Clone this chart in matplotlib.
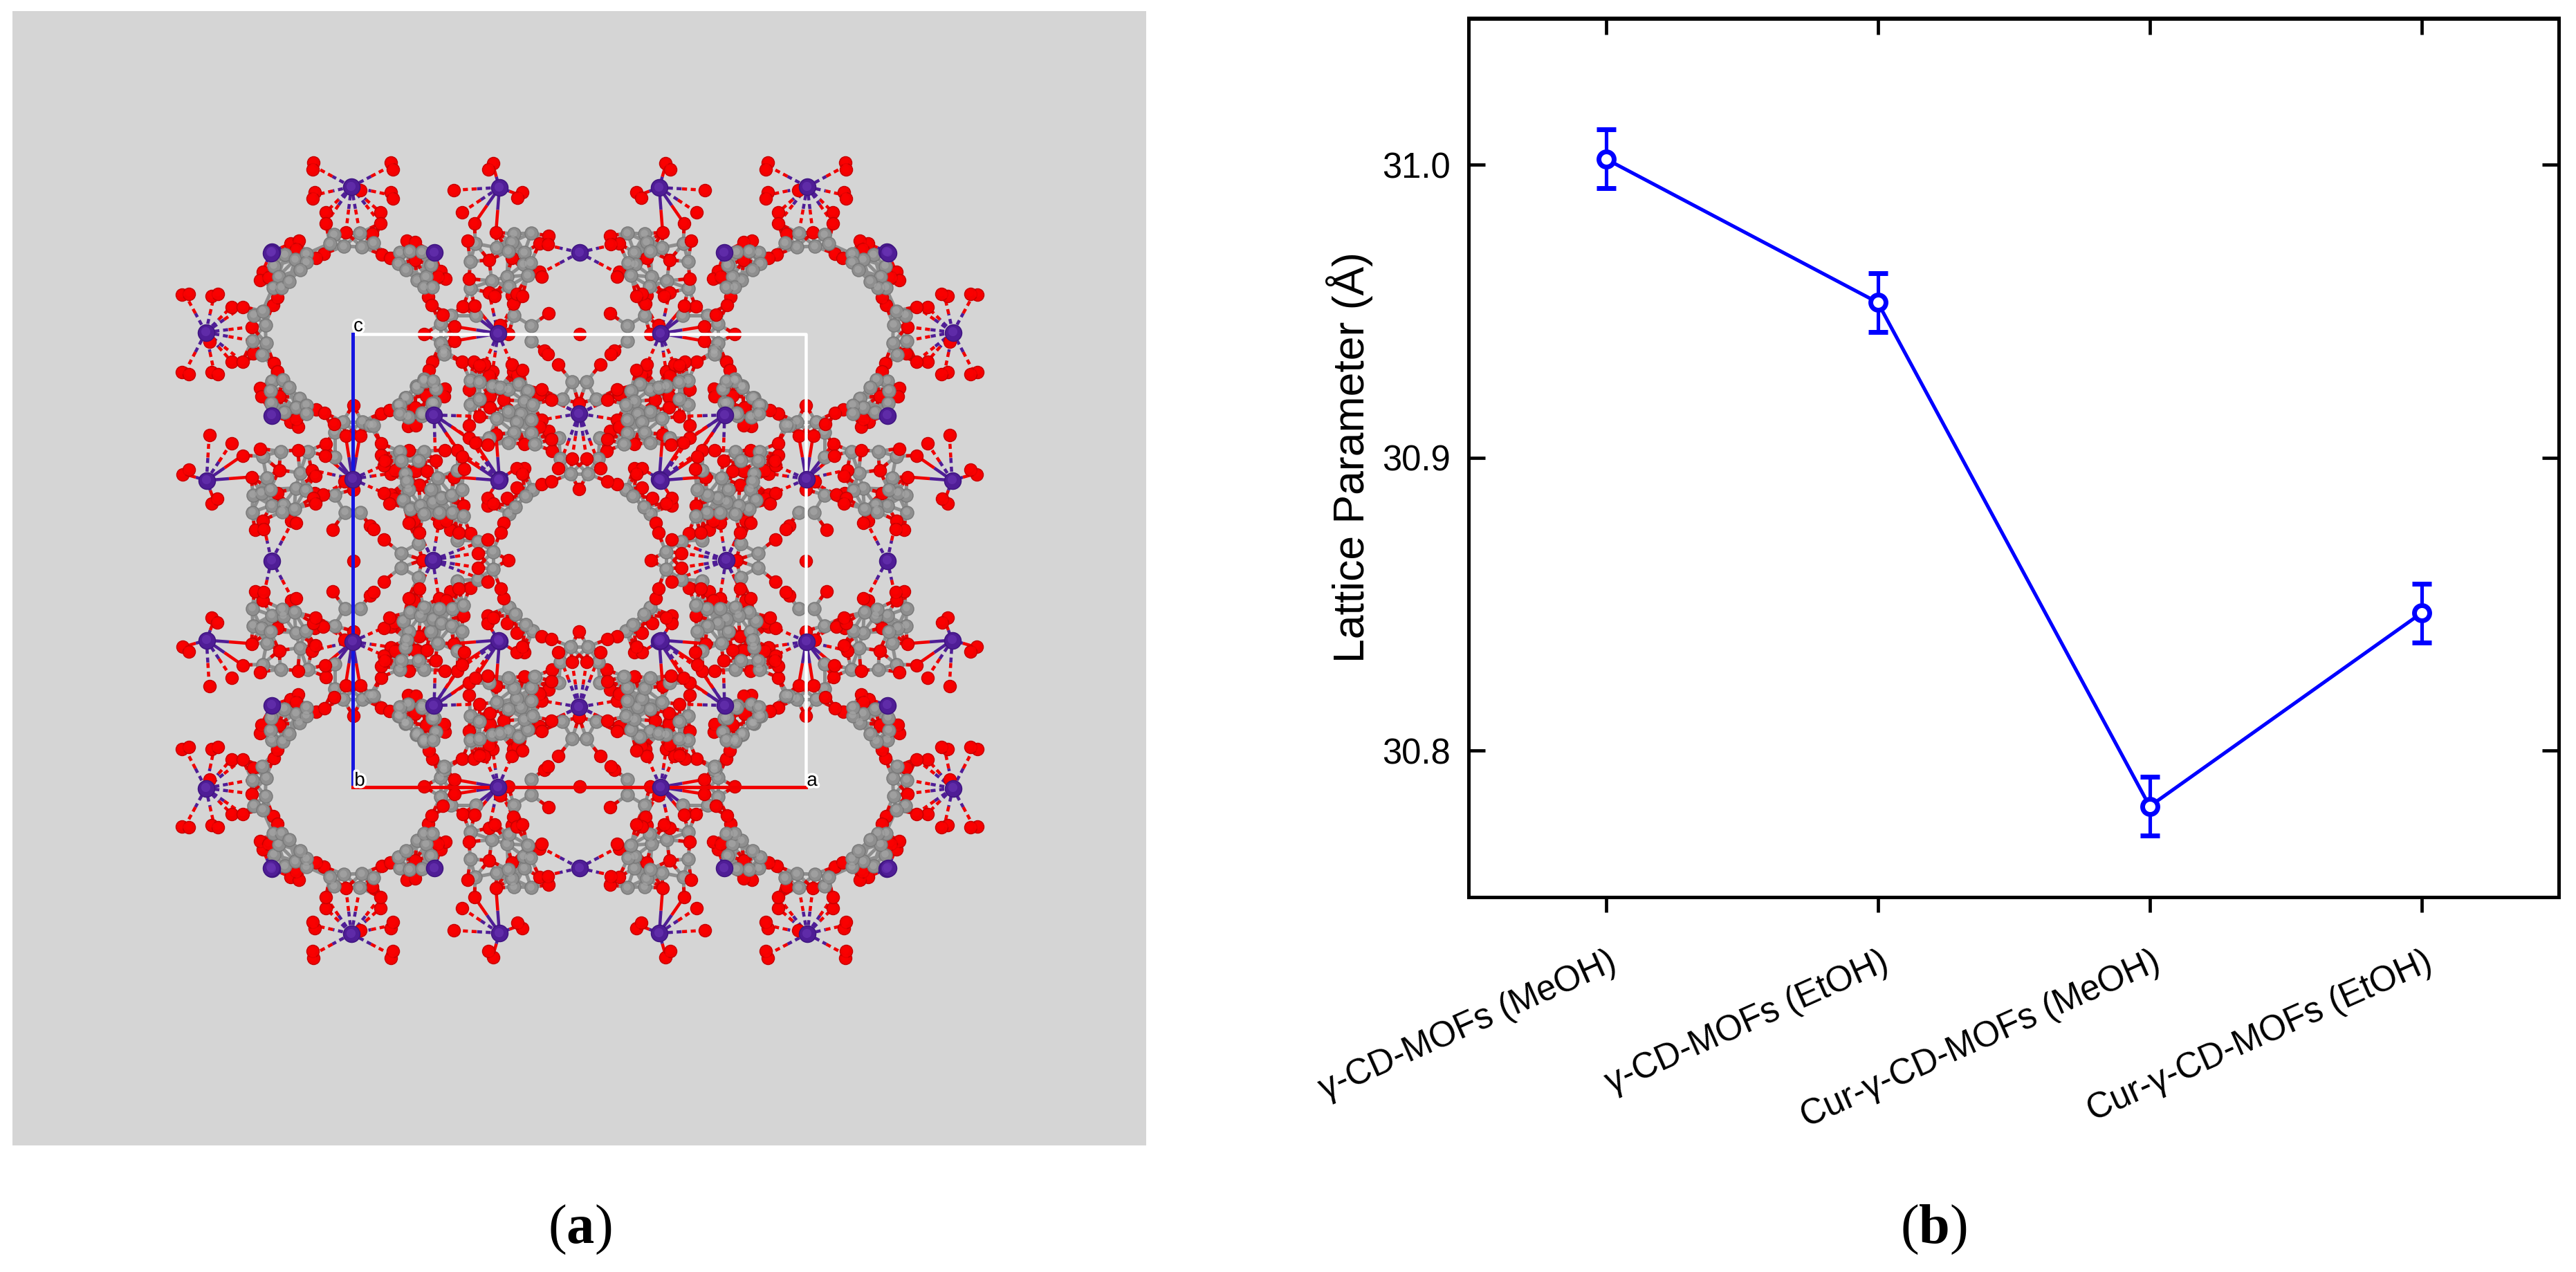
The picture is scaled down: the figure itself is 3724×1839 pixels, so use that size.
import numpy as np
import matplotlib
matplotlib.use("Agg")
import matplotlib.pyplot as plt
from matplotlib.collections import LineCollection
from matplotlib.patches import Rectangle
from matplotlib.transforms import ScaledTranslation
import matplotlib.patheffects as pe

plt.rcParams['font.family'] = ['Liberation Sans', 'DejaVu Sans']
plt.rcParams['mathtext.fontset'] = 'custom'
plt.rcParams['mathtext.rm'] = 'Liberation Serif'
plt.rcParams['mathtext.bf'] = 'Liberation Serif:bold'

# ---------- panel (b) data ----------
CATEGORIES = ['γ-CD-MOFs (MeOH)', 'γ-CD-MOFs (EtOH)', 'Cur-γ-CD-MOFs (MeOH)', 'Cur-γ-CD-MOFs (EtOH)']
LATTICE = [31.002, 30.953, 30.781, 30.847]
LATTICE_ERR = [0.010, 0.010, 0.010, 0.010]
Y_TICKS = [30.8, 30.9, 31.0]

# ---------- panel (a) data: atoms of one symmetric wedge, in reference pixels ----------
CENTER = (837.5, 810.0)
METAL = [(508, 270), (722, 271), (838, 365), (628, 365), (720, 482), (627, 600), (722, 693), (837, 598), (393, 364)]
OXYGEN = [
    (453, 235), (452, 245), (565, 235), (568, 245), (455, 278), (452, 287), (565, 278), (568, 287), (521, 275),
    (471, 307), (471, 323), (550, 307), (550, 323), (500, 336), (538, 338), (468, 367), (457, 373),
    (588, 348), (600, 350), (552, 368), (564, 373), (600, 376), (637, 392), (644, 403), (633, 400),
    (619, 429), (624, 441), (657, 472), (657, 493), (613, 483), (669, 443), (686, 442), (640, 455),
    (793, 453), (787, 507), (838, 483), (735, 483), (723, 470),
    (713, 236), (706, 245), (656, 275), (755, 278), (748, 286), (668, 307), (686, 323), (717, 336),
    (676, 348), (793, 341), (780, 352), (792, 353), (707, 376), (740, 373), (780, 393), (783, 400), (678, 403),
    (707, 423), (715, 428), (742, 439), (747, 425), (755, 428), (740, 427),
    (625, 523), (620, 535), (668, 523), (685, 523), (700, 527), (693, 528), (712, 537), (707, 543), (740, 527),
    (742, 537), (755, 535), (748, 542), (792, 512), (807, 527), (837, 583),
    (643, 562), (642, 573), (616, 572), (678, 563), (708, 573), (728, 578), (708, 589), (693, 602), (780, 570),
    (783, 563), (797, 578), (783, 607), (793, 623), (780, 617), (678, 615), (717, 628), (678, 633), (687, 640),
    (705, 643), (758, 642), (797, 635), (798, 652), (827, 663), (807, 677), (758, 677), (747, 677), (755, 685),
    (783, 700), (797, 696), (837, 707), (747, 705), (420, 352), (432, 348), (428, 360),
]
CARBON = [
    (483, 339), (497, 356), (520, 337), (523, 357), (540, 351), (477, 352),
    (578, 365), (592, 363), (610, 364), (576, 381), (587, 390), (603, 405), (616, 400), (613, 415), (625, 415), (623, 383),
    (652, 456), (637, 468), (637, 496), (642, 507), (688, 456), (743, 456), (768, 471), (768, 493),
    (743, 338), (768, 337), (740, 350), (687, 352), (718, 358), (735, 363), (758, 365), (680, 378), (757, 382),
    (767, 380), (763, 398), (733, 400), (711, 406), (736, 414), (680, 417),
    (613, 548), (602, 558), (630, 562), (587, 575), (578, 585), (628, 582), (610, 597), (578, 598),
    (680, 550), (693, 552), (712, 558), (735, 563), (723, 560), (750, 555), (763, 565), (813, 577), (827, 552),
    (680, 585), (693, 577), (758, 580), (770, 585), (735, 595), (718, 605), (753, 598), (768, 607), (747, 610),
    (743, 625), (768, 626), (707, 633), (735, 640), (773, 642), (808, 633), (810, 663), (825, 685),
    (770, 708), (760, 717), (642, 512),
    (412, 368), (427, 375), (443, 367), (443, 379), (434, 390),
]
# metal-oxygen bonds: (metal, oxygen end) in reference pixels
BOND_DASHED = [
    ((508, 270), (453, 240)), ((508, 270), (565, 240)), ((508, 270), (455, 282)), ((508, 270), (565, 282)),
    ((508, 270), (471, 307)), ((508, 270), (471, 323)), ((508, 270), (550, 307)), ((508, 270), (550, 323)),
    ((508, 270), (500, 336)), ((508, 270), (520, 336)),
    ((722, 271), (656, 275)), ((722, 271), (668, 307)),
    ((838, 365), (780, 352)), ((838, 365), (780, 396)),
    ((720, 482), (707, 423)), ((720, 482), (742, 439)), ((720, 482), (700, 527)), ((720, 482), (740, 527)),
    ((720, 482), (712, 537)),
    ((837, 598), (783, 607)), ((837, 598), (780, 570)), ((837, 598), (827, 663)), ((837, 598), (807, 677)),
    ((837, 598), (797, 578)),
    ((627, 600), (693, 602)), ((627, 600), (678, 633)),
    ((722, 693), (663, 652)),
]
BOND_SOLID = [
    ((722, 271), (713, 240)), ((722, 271), (751, 282)), ((722, 271), (686, 323)), ((722, 271), (717, 336)),
    ((628, 365), (637, 392)), ((628, 365), (600, 350)),
    ((720, 482), (657, 472)), ((720, 482), (657, 493)), ((720, 482), (669, 443)), ((720, 482), (686, 442)),
    ((627, 600), (663, 652)), ((722, 693), (717, 628)), ((722, 693), (687, 640)), ((722, 693), (747, 677)),
    ((393, 364), (420, 352)),
]
CELL_X = [510, 1165]
CELL_Y = [483, 1138]

FIG_W, FIG_H = 3724, 1839
DPI = 100


def images(p):
    """The eight symmetric images of a point about the pore centre."""
    dx, dy = p[0] - CENTER[0], p[1] - CENTER[1]
    return [(CENTER[0] + sx * a, CENTER[1] + sy * b)
            for a, b in ((dx, dy), (dy, dx)) for sx in (1, -1) for sy in (1, -1)]


def expand(points):
    out = []
    for p in points:
        for q in images(p):
            if not any(abs(q[0] - r[0]) < 1.5 and abs(q[1] - r[1]) < 1.5 for r in out):
                out.append(q)
    return np.array(out)


def expand_bonds(bonds):
    segs = []
    for a, b in bonds:
        segs += list(zip(images(a), images(b)))
    return segs


def add_axes_px(left, top, right, bottom):
    return fig.add_axes([left / FIG_W, 1 - bottom / FIG_H, (right - left) / FIG_W, (bottom - top) / FIG_H])


fig = plt.figure(figsize=(FIG_W / DPI, FIG_H / DPI), dpi=DPI, facecolor='white')

# ---------- panel (a) ----------
axa = add_axes_px(18, 16, 1657, 1656)
axa.set_xlim(18, 1657)
axa.set_ylim(1656, 16)
axa.axis('off')
axa.add_patch(Rectangle((18, 16), 1639, 1640, color='#D5D5D5', zorder=0))

C = expand(CARBON)
O = expand(OXYGEN)
M = expand(METAL)

# covalent sticks from distance
cc, co_g, co_r = [], [], []
for i in range(len(C)):
    d = np.hypot(*(C[i + 1:] - C[i]).T)
    for j in np.nonzero(d < 38)[0]:
        cc.append((C[i], C[i + 1 + j]))
    d = np.hypot(*(O - C[i]).T)
    for j in np.nonzero(d < 34)[0]:
        mid = (C[i] + O[j]) / 2
        co_g.append((C[i], mid))
        co_r.append((mid, O[j]))
px = 72 / DPI
axa.add_collection(LineCollection(cc + co_g, colors='#8E8E8E', linewidths=5 * px, zorder=2))
axa.add_collection(LineCollection(co_r, colors='#E00000', linewidths=5 * px, zorder=2))


def metal_bonds(bonds, ls, z):
    segs = expand_bonds(bonds)
    a = [(p, ((p[0] + q[0]) / 2, (p[1] + q[1]) / 2)) for p, q in segs]
    b = [(((p[0] + q[0]) / 2, (p[1] + q[1]) / 2), q) for p, q in segs]
    axa.add_collection(LineCollection(a, colors='#4F1D96', linewidths=4.5 * px, linestyles=ls, zorder=z))
    axa.add_collection(LineCollection(b, colors='#F00000', linewidths=4.5 * px, linestyles=ls, zorder=z))


metal_bonds(BOND_SOLID, '-', 3)
metal_bonds(BOND_DASHED, (0, (1.6, 1.2)), 3)


def balls(P, d, base, edge, light, z):
    s = (d * px) ** 2
    axa.scatter(P[:, 0], P[:, 1], s=s, c=base, edgecolors=edge, linewidths=1.5 * px, zorder=z)
    axa.scatter(P[:, 0] - 0.8, P[:, 1] - 1.2, s=s * 0.3, c=light, linewidths=0, alpha=0.6, zorder=z + 0.1)


# oxygens buried in a carbon cluster sit behind it, the others in front
crowd = np.array([(np.hypot(*(C - p).T) < 30).sum() for p in O])
balls(O[crowd >= 3], 18, '#F40000', '#C80000', '#FF0000', 3.5)
balls(C, 19, '#8F8F8F', '#7A7A7A', '#ABABAB', 4)
balls(O[crowd < 3], 18, '#F40000', '#C80000', '#FF0000', 5)

# unit-cell box
axa.plot([CELL_X[0], CELL_X[1], CELL_X[1]], [CELL_Y[0], CELL_Y[0], CELL_Y[1]], color='white', lw=4.5 * px, zorder=6)
axa.plot([CELL_X[0], CELL_X[0]], CELL_Y, color='#1414E0', lw=5 * px, zorder=6)
axa.plot(CELL_X, [CELL_Y[1], CELL_Y[1]], color='#F00000', lw=5 * px, zorder=6)
balls(M, 24, '#4F1D96', '#3F1580', '#6A35B5', 7)

for lab, (x, y) in {'c': (CELL_X[0] + 8, CELL_Y[0] - 11), 'b': (CELL_X[0] + 10, CELL_Y[1] - 9), 'a': (CELL_X[1] + 9, CELL_Y[1] - 9)}.items():
    axa.text(x, y, lab, fontsize=20, color='black', ha='center', va='center', zorder=9,
             path_effects=[pe.withStroke(linewidth=5, foreground='white')])

# ---------- panel (b) ----------
ax = add_axes_px(2123, 26.5, 3698.5, 1297)
x = np.arange(len(LATTICE))
ax.errorbar(x, LATTICE, yerr=LATTICE_ERR, color='#0000FF', lw=3.7, elinewidth=3.7, capsize=10.4, capthick=3.7,
            marker='o', ms=15.8, mew=5, mfc='white', mec='#0000FF', clip_on=False, zorder=3)
ax.set_xlim(-0.505, 3.503)
ax.set_ylim(30.75, 31.05)
for s in ax.spines.values():
    s.set_linewidth(3.6)
ax.set_yticks(Y_TICKS)
ax.set_yticklabels(['30.8', '30.9', '31.0'])
ax.tick_params(axis='y', which='major', direction='in', left=True, right=True, length=17, width=3.4, labelsize=36.5, pad=19)
ax.set_xticks(x)
ax.set_xticklabels(CATEGORIES, rotation=24, ha='right', va='center', rotation_mode='anchor', fontsize=36.5)
ax.tick_params(axis='x', which='major', direction='out', bottom=True, length=16, width=3.4, pad=50)
shift = ScaledTranslation(13 / DPI, 0, fig.dpi_scale_trans)
for t in ax.get_xticklabels():
    t.set_transform(t.get_transform() + shift)
sec = ax.secondary_xaxis('top')
sec.set_xticks(x)
sec.tick_params(axis='x', direction='in', length=17, width=3.4, labeltop=False)
sec.spines['top'].set_linewidth(3.6)
fig.text(1951 / FIG_W, 1 - 661 / FIG_H, 'Lattice Parameter (Å)', rotation=90, fontsize=45, ha='center', va='center')

# ---------- captions ----------
fig.text(838 / FIG_W, 1 - 1778 / FIG_H, r'$(\mathbf{a})$', fontsize=58, ha='center', va='center')
fig.text(2795 / FIG_W, 1 - 1778 / FIG_H, r'$(\mathbf{b})$', fontsize=58, ha='center', va='center')

fig.savefig('out.png', dpi=DPI, facecolor='white')
